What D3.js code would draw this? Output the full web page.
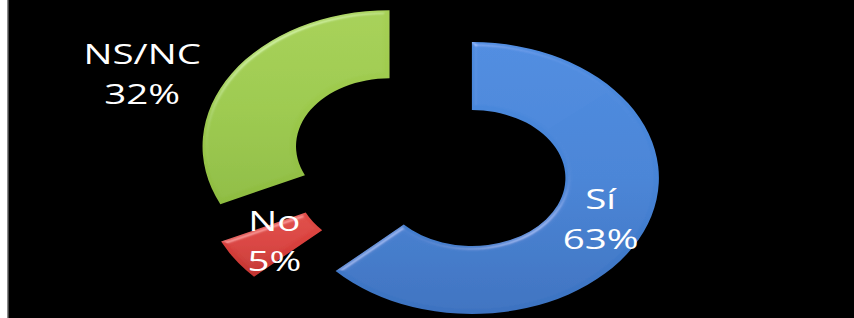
<!DOCTYPE html>
<html>
<head>
    <meta charset="utf-8">
    <title>doughnut</title>
    <script src="https://d3js.org/d3.v7.min.js"></script>
    <style>
        html, body { margin: 0; padding: 0; background: #000; overflow: hidden; }
    </style>
</head>
<body>
    <script>
        const categories = ["Sí", "No", "NS/NC"];
        const values = [63, 5, 32];
        const labels = ["63%", "5%", "32%"];

        const width = 854;
        const height = 318;
        const sx = 1.375;           // picture is stretched horizontally
        const outerR = 136;
        const innerR = 68;
        const explode = 34;
        const cx = 429 / sx, cy = 164.5;

        const colors = {
            "Sí": ["#4d8be0", "#4784d6", "#3c72c0"],
            "No": ["#e04b46", "#d8403c", "#c23532"],
            "NS/NC": ["#a6d055", "#9cc94c", "#8ebc41"]
        };

        const svg = d3.select("body").append("svg")
            .attr("width", width)
            .attr("height", height)
            .style("display", "block");

        const defs = svg.append("defs");

        // soft bevel look
        const f = defs.append("filter").attr("id", "bevel")
            .attr("x", "-10%").attr("y", "-10%").attr("width", "120%").attr("height", "120%");
        f.append("feGaussianBlur").attr("in", "SourceAlpha").attr("stdDeviation", 2).attr("result", "blur");
        f.append("feSpecularLighting").attr("in", "blur").attr("surfaceScale", 2.5)
            .attr("specularConstant", 0.22).attr("specularExponent", 25)
            .attr("lighting-color", "#ffffff").attr("result", "spec")
            .append("fePointLight").attr("x", -4000).attr("y", -9000).attr("z", 6000);
        f.append("feComposite").attr("in", "spec").attr("in2", "SourceAlpha").attr("operator", "in").attr("result", "specOut");
        f.append("feComposite").attr("in", "SourceGraphic").attr("in2", "specOut")
            .attr("operator", "arithmetic").attr("k1", 0).attr("k2", 1).attr("k3", 1).attr("k4", 0);

        categories.forEach((c, i) => {
            const g = defs.append("linearGradient").attr("id", "grad" + i)
                .attr("x1", 0).attr("y1", 0).attr("x2", 0).attr("y2", 1);
            g.append("stop").attr("offset", "0%").attr("stop-color", colors[c][0]);
            g.append("stop").attr("offset", "50%").attr("stop-color", colors[c][1]);
            g.append("stop").attr("offset", "100%").attr("stop-color", colors[c][2]);
        });

        // left edge of the slide
        svg.append("rect").attr("x", 0).attr("y", 0).attr("width", 7).attr("height", height).attr("fill", "#ffffff");
        svg.append("rect").attr("x", 7).attr("y", 0).attr("width", 1.5).attr("height", height).attr("fill", "#8a8a8a");

        const pie = d3.pie().sort(null).value(d => d)(values);
        const arc = d3.arc().innerRadius(innerR).outerRadius(outerR);

        const chart = svg.append("g").attr("transform", `scale(${sx},1) translate(${cx},${cy})`);

        const slices = chart.selectAll("g.slice").data(pie).join("g")
            .attr("class", "slice")
            .attr("transform", d => {
                const a = (d.startAngle + d.endAngle) / 2;
                return `translate(${explode * Math.sin(a)},${-explode * Math.cos(a)})`;
            });

        slices.append("path")
            .attr("d", arc)
            .attr("fill", (d, i) => `url(#grad${i})`)
            .attr("filter", "url(#bevel)");

        // labels: inside for Sí and No, outside for NS/NC
        const outsideLabel = { r: 194, angle: 292 * Math.PI / 180 };
        slices.each(function(d, i) {
            let x, y;
            if (categories[i] === "NS/NC") {
                x = outsideLabel.r * Math.sin(outsideLabel.angle);
                y = -outsideLabel.r * Math.cos(outsideLabel.angle);
            } else {
                [x, y] = arc.centroid(d);
            }
            const t = d3.select(this).append("text")
                .attr("text-anchor", "middle")
                .attr("fill", "#ffffff")
                .style("font-family", "'Open Sans', sans-serif")
                .style("font-size", "28px")
                .attr("transform", `translate(${x},${y})`);
            t.append("tspan").attr("x", 0).attr("y", -10).text(categories[i]);
            t.append("tspan").attr("x", 0).attr("y", 30).text(labels[i]);
        });
    </script>
</body>
</html>
